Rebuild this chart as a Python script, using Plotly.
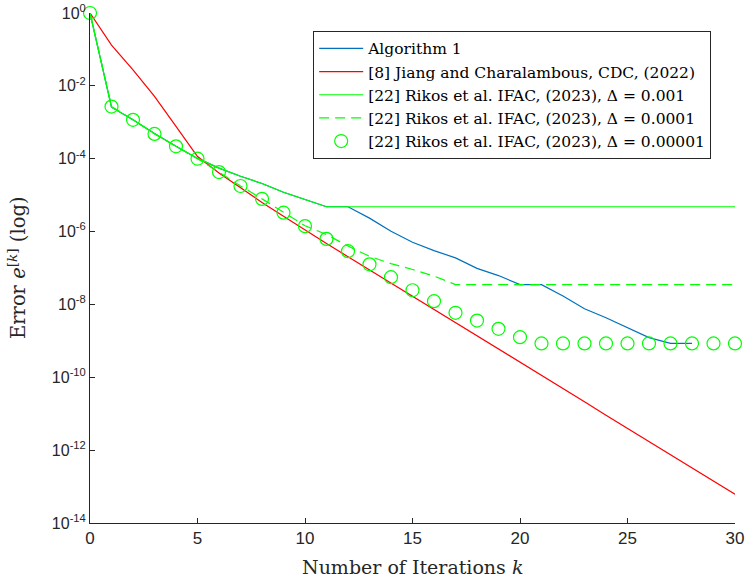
import plotly.graph_objects as go

iterations = list(range(31))

algorithm1 = [1.0, 2.6e-3, 1.17e-3, 4.9e-4, 2.19e-4, 1.02e-4, 5.5e-5, 3.3e-5, 2.09e-5, 1.2e-5,
              7.6e-6, 4.8e-6, 4.8e-6, 2.34e-6, 1.02e-6, 5.1e-7, 3.0e-7, 1.9e-7, 9.8e-8, 6.2e-8,
              3.5e-8, 3.5e-8, 1.7e-8, 7.6e-9, 4.3e-9, 2.3e-9, 1.23e-9, 8.5e-10, 8.5e-10]

jiang = [1.0, 0.132, 2.75e-2, 5.13e-3, 7.76e-4, 1.15e-4, 4.07e-5, 1.58e-5, 6.3e-6, 2.63e-6,
         1.10e-6, 4.68e-7, 2.04e-7, 8.9e-8, 3.8e-8, 1.66e-8, 7.2e-9, 3.16e-9, 1.38e-9, 5.9e-10,
         2.57e-10, 1.12e-10, 4.9e-11, 2.14e-11, 9.1e-12, 3.98e-12, 1.74e-12, 7.6e-13, 3.3e-13,
         1.41e-13, 6.2e-14]

rikos_1e3 = [1.0, 2.6e-3, 1.17e-3, 4.9e-4, 2.19e-4, 1.02e-4, 5.5e-5, 3.3e-5, 2.09e-5, 1.2e-5,
             7.6e-6, 4.8e-6, 4.8e-6, 4.8e-6, 4.8e-6, 4.8e-6, 4.8e-6, 4.8e-6, 4.8e-6, 4.8e-6,
             4.8e-6, 4.8e-6, 4.8e-6, 4.8e-6, 4.8e-6, 4.8e-6, 4.8e-6, 4.8e-6, 4.8e-6, 4.8e-6, 4.8e-6]

rikos_1e4 = [1.0, 2.7e-3, 1.17e-3, 4.8e-4, 2.19e-4, 1.0e-4, 4.3e-5, 1.78e-5, 7.9e-6, 3.3e-6,
             1.45e-6, 8.3e-7, 4.0e-7, 2.1e-7, 1.32e-7, 9.1e-8, 6.0e-8, 3.5e-8, 3.5e-8, 3.5e-8,
             3.5e-8, 3.5e-8, 3.5e-8, 3.5e-8, 3.5e-8, 3.5e-8, 3.5e-8, 3.5e-8, 3.5e-8, 3.5e-8, 3.5e-8]

rikos_1e5 = [1.0, 2.7e-3, 1.17e-3, 4.8e-4, 2.19e-4, 1.0e-4, 4.3e-5, 1.78e-5, 7.9e-6, 3.3e-6,
             1.41e-6, 6.3e-7, 2.9e-7, 1.26e-7, 5.6e-8, 2.45e-8, 1.23e-8, 5.9e-9, 3.6e-9, 2.14e-9,
             1.26e-9, 8.5e-10, 8.5e-10, 8.5e-10, 8.5e-10, 8.5e-10, 8.5e-10, 8.5e-10, 8.5e-10,
             8.5e-10, 8.5e-10]

y_tick_vals = [1e-14, 1e-12, 1e-10, 1e-8, 1e-6, 1e-4, 1e-2, 1]
y_tick_text = ["10<sup>-14</sup>", "10<sup>-12</sup>", "10<sup>-10</sup>", "10<sup>-8</sup>",
               "10<sup>-6</sup>", "10<sup>-4</sup>", "10<sup>-2</sup>", "10<sup>0</sup>"]
x_tick_vals = [0, 5, 10, 15, 20, 25, 30]

names = ["Algorithm 1",
         "[8] Jiang and Charalambous, CDC, (2022)",
         "[22] Rikos et al. IFAC, (2023), Δ = 0.001",
         "[22] Rikos et al. IFAC, (2023), Δ = 0.0001",
         "[22] Rikos et al. IFAC, (2023), Δ = 0.00001"]

x_title = "Number of Iterations <i>k</i>"
y_title = "Error <i>e</i><sup>[<i>k</i>]</sup> (log)"

BLUE = "#0072BD"
RED = "#FF0000"
GREEN = "#00FF00"
AX = "#262626"
SERIF = "DejaVu Serif"

fig = go.Figure()
fig.add_trace(go.Scatter(x=iterations[:len(algorithm1)], y=algorithm1, mode="lines", name=names[0],
                         line=dict(color=BLUE, width=1.2)))
fig.add_trace(go.Scatter(x=iterations, y=jiang, mode="lines", name=names[1],
                         line=dict(color=RED, width=1.2)))
fig.add_trace(go.Scatter(x=iterations, y=rikos_1e3, mode="lines", name=names[2],
                         line=dict(color=GREEN, width=1.2)))
fig.add_trace(go.Scatter(x=iterations, y=rikos_1e4, mode="lines", name=names[3],
                         line=dict(color=GREEN, width=1.2, dash="10px,6px")))
fig.add_trace(go.Scatter(x=iterations, y=rikos_1e5, mode="markers", name=names[4],
                         marker=dict(symbol="circle-open", size=13, color=GREEN,
                                     line=dict(color=GREEN, width=1.2)),
                         cliponaxis=False))

fig.update_layout(
    width=747, height=581,
    margin=dict(l=90, r=12, t=13, b=58, autoexpand=False),
    paper_bgcolor="white", plot_bgcolor="white",
    font=dict(family="Liberation Sans", color=AX, size=16),
    showlegend=True,
    legend=dict(x=0.346, y=0.965, xanchor="left", yanchor="top",
                bgcolor="white", bordercolor=AX, borderwidth=1,
                font=dict(family=SERIF, size=15.5, color="black"),
                itemwidth=44, tracegroupgap=0),
    xaxis=dict(range=[0, 30], tickvals=x_tick_vals, ticks="inside", ticklen=5,
               tickcolor=AX, showline=True, linecolor=AX, linewidth=1,
               showgrid=False, zeroline=False, mirror=False, automargin=False,
               tickfont=dict(family="Liberation Sans", size=17, color=AX)),
    yaxis=dict(type="log", range=[-14, 0], tickvals=y_tick_vals, ticktext=y_tick_text,
               ticks="inside", ticklen=5, tickcolor=AX, showline=True, linecolor=AX,
               linewidth=1, showgrid=False, zeroline=False, mirror=False, automargin=False,
               tickfont=dict(family="Liberation Sans", size=16, color=AX)),
    annotations=[
        dict(text=x_title, xref="paper", yref="paper", x=0.5, y=0, yshift=-44,
             xanchor="center", yanchor="middle", showarrow=False,
             font=dict(family=SERIF, size=19, color=AX)),
        dict(text=y_title, xref="paper", yref="paper", x=0, y=0.5, xshift=-73,
             xanchor="center", yanchor="middle", textangle=-90, showarrow=False,
             font=dict(family=SERIF, size=19.5, color=AX)),
    ],
)

fig.write_html("out.html", config={"displayModeBar": False},
               post_script="document.body.style.margin='0';")
